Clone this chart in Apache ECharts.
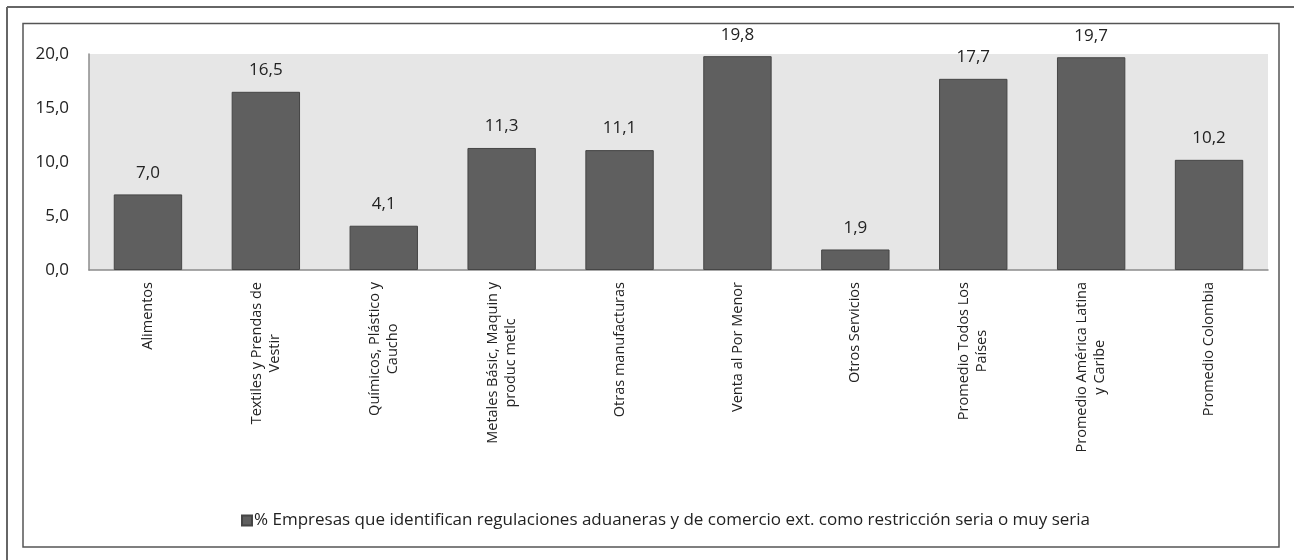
<!DOCTYPE html>
<html>
<head>
<meta charset="utf-8">
<script src="https://cdn.jsdelivr.net/npm/echarts@6/dist/echarts.min.js"></script>
<style>
html,body{margin:0;padding:0;background:#fff;}
#chart{width:1294px;height:560px;}
</style>
</head>
<body>
<div id="chart"></div>
<script>
var categories = [
  "Alimentos",
  "Textiles y Prendas de\nVestir",
  "Químicos, Plástico y\nCaucho",
  "Metales Básic, Maquin y\nproduc metlc",
  "Otras manufacturas",
  "Venta al Por Menor",
  "Otros Servicios",
  "Promedio Todos Los\nPaíses",
  "Promedio América Latina\ny Caribe",
  "Promedio Colombia"
];
var values = [7.0, 16.5, 4.1, 11.3, 11.1, 19.8, 1.9, 17.7, 19.7, 10.2];
var seriesName = "% Empresas que identifican regulaciones aduaneras y de comercio ext. como restricción seria o muy seria";
var yTicks = [0, 5, 10, 15, 20];

var FONT = "'Open Sans', sans-serif";
var chart = echarts.init(document.getElementById('chart'));
function fmt(v){ return v.toFixed(1).replace('.', ','); }

chart.setOption({
  animation: false,
  textStyle: {fontFamily: FONT},
  grid: {
    left: 89, right: 26, top: 54, bottom: 290,
    show: true, backgroundColor: '#e6e6e6', borderWidth: 0
  },
  legend: {
    bottom: 26, left: 236,
    icon: 'rect', itemWidth: 10, itemHeight: 10, itemGap: 4,
    textStyle: {fontFamily: FONT, fontSize: 17, color: '#222', padding: [0,0,0,-3]},
    data: [seriesName]
  },
  xAxis: {
    type: 'category',
    data: categories,
    axisLine: {lineStyle: {color: '#8c8c8c', width: 1.5}},
    axisTick: {show: false},
    axisLabel: {
      interval: 0, rotate: 90, margin: 12,
      fontFamily: FONT, fontSize: 15, color: '#222',
      formatter: function(v){ return v.split('\n').map(function(s){return '{c|' + s + '}';}).join('\n'); },
      rich: {c: {fontFamily: FONT, fontSize: 14.5, color: '#222', align: 'center', lineHeight: 18}}
    }
  },
  yAxis: {
    type: 'value',
    min: 0, max: 20, interval: 5,
    axisLine: {show: true, lineStyle: {color: '#8c8c8c', width: 1.5}},
    axisTick: {show: false},
    splitLine: {show: false},
    axisLabel: {
      fontFamily: FONT, fontSize: 17, color: '#222', margin: 20,
      formatter: function(v){ return yTicks.indexOf(v) >= 0 ? fmt(v) : ''; },
      padding: [8, 0, 0, 0]
    }
  },
  series: [{
    name: seriesName,
    type: 'bar',
    data: values,
    barWidth: '58%',
    itemStyle: {color: '#5f5f5f', borderColor: '#454545', borderWidth: 1},
    label: {
      show: true, position: 'top', distance: 13,
      fontFamily: FONT, fontSize: 17, color: '#222',
      formatter: function(p){ return fmt(p.value); }
    }
  }],
  graphic: [
    {type: 'line', shape: {x1: 7, y1: 7, x2: 1294, y2: 7}, style: {stroke: '#666', lineWidth: 2}, silent: true},
    {type: 'line', shape: {x1: 7, y1: 7, x2: 7, y2: 560}, style: {stroke: '#666', lineWidth: 2}, silent: true},
    {type: 'rect', shape: {x: 23, y: 23.5, width: 1256, height: 523.5}, style: {fill: 'none', stroke: '#555', lineWidth: 1.5}, silent: true}
  ]
});
</script>
</body>
</html>
